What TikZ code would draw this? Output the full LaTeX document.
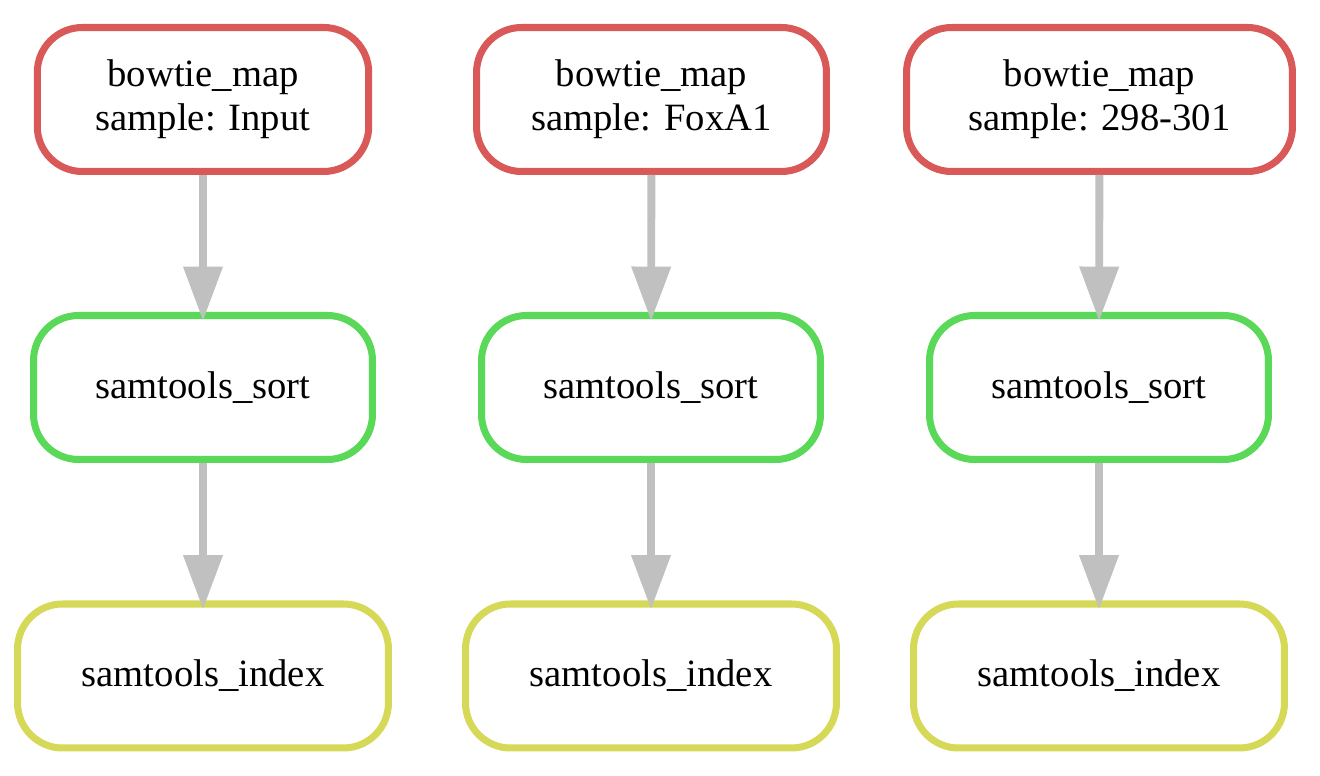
\documentclass[tikz,border=0pt]{standalone}
\usepackage{fontspec}
\setmainfont{Liberation Serif}
\usetikzlibrary{arrows.meta}
\usetikzlibrary{positioning}

\definecolor{rulered}{RGB}{217,88,88}
\definecolor{rulegreen}{RGB}{89,217,87}
\definecolor{ruleyellow}{RGB}{214,217,87}
\definecolor{edgegray}{RGB}{192,192,192}

\begin{document}
\begin{tikzpicture}[x=0.02cm,y=-0.02cm,
        every node/.style={draw,rounded corners=0.9cm,line width=4pt,
            align=center,minimum height=2.88cm,font=\fontsize{22}{25}\selectfont},
        mapbox/.style={color=rulered,text=black},
        sortbox/.style={color=rulegreen,text=black,minimum width=6.78cm},
        indexbox/.style={color=ruleyellow,text=black,minimum width=7.42cm},
        dep/.style={draw=edgegray,line width=4.5pt,shorten >=-0.18cm,
            -{Triangle[width=21.5pt,length=31pt]}}]

    \useasboundingbox (0,0) rectangle (1320,776);

    % first row
    \node[mapbox,minimum width=6.63cm] (map1) at (203,99.5) {bowtie\_map\\sample: Input};
    \node[mapbox,minimum width=7.00cm] (map2) at (651.5,99.5) {bowtie\_map\\sample: FoxA1};
    \node[mapbox,minimum width=7.72cm] (map3) at (1099.5,99.5) {bowtie\_map\\sample: 298-301};

    % second and third rows
    \foreach \i/\x in {1/203,2/651,3/1099} {
        \node[sortbox] (sort\i) at (\x,387.5) {samtools\_sort};
        \node[indexbox] (index\i) at (\x,676) {samtools\_index};
        \draw[dep] (map\i) -- (sort\i);
        \draw[dep] (sort\i) -- (index\i);
    }
\end{tikzpicture}
\end{document}
